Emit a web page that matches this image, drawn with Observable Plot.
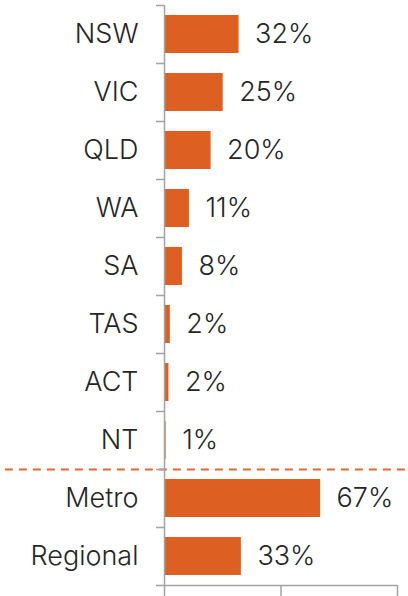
<!DOCTYPE html>
<html>
<head>
<meta charset="utf-8">
<script src="https://cdn.jsdelivr.net/npm/d3@7"></script>
<script src="https://cdn.jsdelivr.net/npm/@observablehq/plot@0.6"></script>
<style>
  html, body { margin: 0; padding: 0; background: #fff; }
  #chart svg { display: block; }
</style>
</head>
<body>
<div id="chart"></div>
<script>
const categories = ["NSW", "VIC", "QLD", "WA", "SA", "TAS", "ACT", "NT", "Metro", "Regional"];
const values = [0.32, 0.252, 0.20, 0.107, 0.077, 0.025, 0.019, 0.007, 0.67, 0.33];
const valueLabels = ["32%", "25%", "20%", "11%", "8%", "2%", "2%", "1%", "67%", "33%"];
const xTicks = [0, 0.5, 1];
const separatorAfter = "NT";

const data = categories.map((c, i) => ({ category: c, i, value: values[i], label: valueLabels[i] }));
const sepIndex = categories.indexOf(separatorAfter) + 1;
const bandPad = 0.1725;

const FONT = "Inter, 'Open Sans', sans-serif";
const AXIS = "#a3a3a3";
const BAR = "#dd5f22";
const TEXT = "#262626";

const chart = Plot.plot({
  width: 408,
  height: 596,
  marginLeft: 164,
  marginRight: 11,
  marginTop: 5,
  marginBottom: 11,
  style: { fontFamily: FONT, background: "#fff", color: AXIS },
  x: { domain: [0, 1], label: null },
  y: { domain: [0, categories.length], reverse: true, label: null },
  marks: [
    Plot.rect(data, {
      x1: () => 0,
      x2: "value",
      y1: d => d.i + bandPad,
      y2: d => d.i + 1 - bandPad,
      fill: BAR
    }),
    Plot.ruleY([sepIndex], {
      x1: -0.683, x2: 1.06,
      stroke: "#e4692c", strokeWidth: 2, strokeDasharray: "8,6"
    }),
    Plot.axisY(d3.range(0, categories.length + 1), {
      tickSize: 8, tickFormat: () => "", label: null, stroke: AXIS, strokeWidth: 1.5
    }),
    Plot.axisX(xTicks, {
      anchor: "bottom", tickSize: 14, tickFormat: () => "", label: null, stroke: AXIS, strokeWidth: 1.5
    }),
    Plot.ruleX([0], { stroke: AXIS, strokeWidth: 1.5 }),
    Plot.ruleY([categories.length], { stroke: AXIS, strokeWidth: 1.5 }),
    Plot.text(data, {
      x: () => 0,
      y: d => d.i + 0.5,
      text: "category",
      textAnchor: "end",
      dx: -26,
      fill: TEXT,
      fontSize: 27,
      fontWeight: 340,
      letterSpacing: "0.4px"
    }),
    Plot.text(data, {
      x: "value",
      y: d => d.i + 0.5,
      text: "label",
      textAnchor: "start",
      dx: 16,
      fill: TEXT,
      fontSize: 27,
      fontWeight: 340
    })
  ]
});
document.getElementById("chart").appendChild(chart);
</script>
</body>
</html>
